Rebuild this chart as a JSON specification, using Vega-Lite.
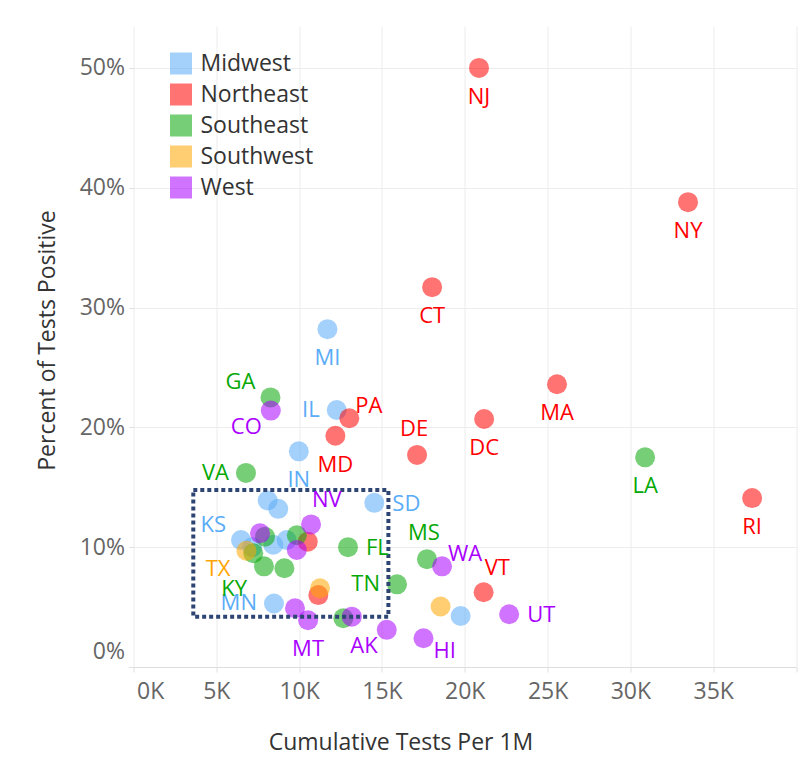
{
  "$schema": "https://vega.github.io/schema/vega-lite/v6.json",
  "width": 662.5,
  "height": 641,
  "autosize": {"type": "none"},
  "padding": {"left": 133.5, "top": 26, "right": 12, "bottom": 111},
  "background": "white",
  "config": {
    "font": "Open Sans",
    "view": {"stroke": null},
    "axis": {
      "labelFont": "Open Sans", "labelFontSize": 23, "labelColor": "#666666",
      "titleFont": "Open Sans", "titleFontSize": 23, "titleColor": "#333333", "titleFontWeight": "normal",
      "gridColor": "#ececec", "gridWidth": 1,
      "tickColor": "#e0e0e0", "tickSize": 5, "domainColor": "#dddddd"
    },
    "legend": {"labelFont": "Open Sans", "labelFontSize": 23, "labelColor": "#333333"}
  },
  "datasets": {
    "states": [
      {"s": "MI", "r": "Midwest", "x": 11710, "y": 0.282, "p": "b"},
      {"s": "IL", "r": "Midwest", "x": 12270, "y": 0.2145, "p": "l"},
      {"s": "IN", "r": "Midwest", "x": 9980, "y": 0.180, "p": "b"},
      {"s": "SD", "r": "Midwest", "x": 14540, "y": 0.137, "p": "r"},
      {"s": "KS", "r": "Midwest", "x": 6490, "y": 0.106, "p": "al"},
      {"s": "MN", "r": "Midwest", "x": 8480, "y": 0.053, "p": "l"},
      {"s": "OH", "r": "Midwest", "x": 8100, "y": 0.139, "p": "n"},
      {"s": "WI", "r": "Midwest", "x": 8740, "y": 0.132, "p": "n"},
      {"s": "ND", "r": "Midwest", "x": 19750, "y": 0.0426, "p": "n"},
      {"s": "IA", "r": "Midwest", "x": 7160, "y": 0.100, "p": "n"},
      {"s": "MO", "r": "Midwest", "x": 8440, "y": 0.102, "p": "n"},
      {"s": "NE", "r": "Midwest", "x": 9250, "y": 0.106, "p": "n"},
      {"s": "NJ", "r": "Northeast", "x": 20860, "y": 0.500, "p": "b"},
      {"s": "NY", "r": "Northeast", "x": 33480, "y": 0.388, "p": "b"},
      {"s": "CT", "r": "Northeast", "x": 18030, "y": 0.317, "p": "b"},
      {"s": "MA", "r": "Northeast", "x": 25570, "y": 0.236, "p": "b"},
      {"s": "PA", "r": "Northeast", "x": 13030, "y": 0.2076, "p": "ar"},
      {"s": "DC", "r": "Northeast", "x": 21170, "y": 0.207, "p": "b"},
      {"s": "MD", "r": "Northeast", "x": 12190, "y": 0.193, "p": "b"},
      {"s": "DE", "r": "Northeast", "x": 17120, "y": 0.177, "p": "a"},
      {"s": "RI", "r": "Northeast", "x": 37350, "y": 0.141, "p": "b"},
      {"s": "VT", "r": "Northeast", "x": 21140, "y": 0.0624, "p": "ahr"},
      {"s": "NH", "r": "Northeast", "x": 10520, "y": 0.1046, "p": "n"},
      {"s": "ME", "r": "Northeast", "x": 11160, "y": 0.060, "p": "n"},
      {"s": "GA", "r": "Southeast", "x": 8270, "y": 0.225, "p": "al"},
      {"s": "VA", "r": "Southeast", "x": 6790, "y": 0.162, "p": "l"},
      {"s": "LA", "r": "Southeast", "x": 30890, "y": 0.175, "p": "b"},
      {"s": "FL", "r": "Southeast", "x": 12950, "y": 0.100, "p": "r"},
      {"s": "MS", "r": "Southeast", "x": 17720, "y": 0.090, "p": "a"},
      {"s": "TN", "r": "Southeast", "x": 15910, "y": 0.069, "p": "l"},
      {"s": "KY", "r": "Southeast", "x": 7880, "y": 0.084, "p": "bl3"},
      {"s": "AL", "r": "Southeast", "x": 7940, "y": 0.1088, "p": "n"},
      {"s": "AR", "r": "Southeast", "x": 7230, "y": 0.0949, "p": "n"},
      {"s": "NC", "r": "Southeast", "x": 9110, "y": 0.0824, "p": "n"},
      {"s": "SC", "r": "Southeast", "x": 9860, "y": 0.110, "p": "n"},
      {"s": "WV", "r": "Southeast", "x": 12670, "y": 0.0407, "p": "n"},
      {"s": "TX", "r": "Southwest", "x": 6820, "y": 0.097, "p": "bl2"},
      {"s": "AZ", "r": "Southwest", "x": 18540, "y": 0.0505, "p": "n"},
      {"s": "NM", "r": "Southwest", "x": 11260, "y": 0.0657, "p": "n"},
      {"s": "CO", "r": "West", "x": 8290, "y": 0.214, "p": "bl"},
      {"s": "NV", "r": "West", "x": 10720, "y": 0.119, "p": "ahr"},
      {"s": "WA", "r": "West", "x": 18630, "y": 0.084, "p": "ar"},
      {"s": "UT", "r": "West", "x": 22680, "y": 0.044, "p": "r"},
      {"s": "HI", "r": "West", "x": 17510, "y": 0.024, "p": "br"},
      {"s": "AK", "r": "West", "x": 15290, "y": 0.031, "p": "bl"},
      {"s": "MT", "r": "West", "x": 10540, "y": 0.039, "p": "b"},
      {"s": "OR", "r": "West", "x": 7640, "y": 0.1116, "p": "n"},
      {"s": "CA", "r": "West", "x": 9860, "y": 0.0977, "p": "n"},
      {"s": "ID", "r": "West", "x": 9750, "y": 0.049, "p": "n"},
      {"s": "WY", "r": "West", "x": 13180, "y": 0.042, "p": "n"}
    ],
    "box": [{"x1": 3610, "x2": 15390, "y1": 0.042, "y2": 0.1477}]
  },
  "data": {"name": "states"},
  "encoding": {
    "x": {"field": "x", "type": "quantitative", "title": "Cumulative Tests Per 1M",
      "scale": {"domain": [0, 40000], "nice": false, "zero": false},
      "axis": {"values": [0, 5000, 10000, 15000, 20000, 25000, 30000, 35000, 40000],
        "labelExpr": "datum.value >= 40000 ? '' : (datum.value / 1000) + 'K'",
        "labelFlush": true, "labelFlushOffset": -3, "labelPadding": 8, "titlePadding": 28,
        "titleX": 267, "titleAlign": "center", "grid": true}},
    "y": {"field": "y", "type": "quantitative", "title": "Percent of Tests Positive",
      "scale": {"domain": [0, 0.535], "nice": false, "zero": false},
      "axis": {"values": [0, 0.1, 0.2, 0.3, 0.4, 0.5], "format": ".0%", "domain": false,
        "labelFlush": true, "labelFlushOffset": -4, "labelPadding": 4, "titlePadding": 20,
        "titleY": 314, "grid": true}},
    "color": {"field": "r", "type": "nominal",
      "scale": {"domain": ["Midwest", "Northeast", "Southeast", "Southwest", "West"],
        "range": ["#5aacf8", "#ff0000", "#05a805", "#ffa500", "#aa00ff"]},
      "legend": null}
  },
  "layer": [
    {
      "mark": {"type": "circle", "size": 400, "opacity": 0.55},
      "encoding": {
        "color": {"field": "r", "type": "nominal",
          "legend": {"title": null, "orient": "none", "legendX": 36, "legendY": 26, "padding": 0,
            "symbolType": "square", "symbolSize": 484, "symbolOpacity": 0.55, "symbolStrokeWidth": 0,
            "labelOffset": 8, "rowPadding": 7}}
      }
    },
    {
      "data": {"name": "box"},
      "mark": {"type": "rect", "filled": false, "stroke": "#2e4574", "strokeWidth": 4, "strokeDash": [4, 3]},
      "encoding": {
        "x": {"field": "x1", "type": "quantitative"},
        "x2": {"field": "x2"},
        "y": {"field": "y1", "type": "quantitative"},
        "y2": {"field": "y2"},
        "color": {"value": null}
      }
    },
    {"transform": [{"filter": "datum.p == 'b'"}], "mark": {"type": "text", "fontSize": 22, "align": "center", "baseline": "middle", "dx": 0, "dy": 29}, "encoding": {"text": {"field": "s"}}},
    {"transform": [{"filter": "datum.p == 'a'"}], "mark": {"type": "text", "fontSize": 22, "align": "center", "baseline": "middle", "dx": -3, "dy": -26}, "encoding": {"text": {"field": "s"}}},
    {"transform": [{"filter": "datum.p == 'l'"}], "mark": {"type": "text", "fontSize": 22, "align": "right", "baseline": "middle", "dx": -17, "dy": 0}, "encoding": {"text": {"field": "s"}}},
    {"transform": [{"filter": "datum.p == 'r'"}], "mark": {"type": "text", "fontSize": 22, "align": "left", "baseline": "middle", "dx": 18, "dy": 1}, "encoding": {"text": {"field": "s"}}},
    {"transform": [{"filter": "datum.p == 'al'"}], "mark": {"type": "text", "fontSize": 22, "align": "right", "baseline": "middle", "dx": -15, "dy": -15}, "encoding": {"text": {"field": "s"}}},
    {"transform": [{"filter": "datum.p == 'ar'"}], "mark": {"type": "text", "fontSize": 22, "align": "left", "baseline": "middle", "dx": 6, "dy": -12}, "encoding": {"text": {"field": "s"}}},
    {"transform": [{"filter": "datum.p == 'ahr'"}], "mark": {"type": "text", "fontSize": 22, "align": "left", "baseline": "middle", "dx": 1, "dy": -24}, "encoding": {"text": {"field": "s"}}},
    {"transform": [{"filter": "datum.p == 'bl'"}], "mark": {"type": "text", "fontSize": 22, "align": "right", "baseline": "middle", "dx": -9, "dy": 16}, "encoding": {"text": {"field": "s"}}},
    {"transform": [{"filter": "datum.p == 'bl2'"}], "mark": {"type": "text", "fontSize": 22, "align": "right", "baseline": "middle", "dx": -16, "dy": 18}, "encoding": {"text": {"field": "s"}}},
    {"transform": [{"filter": "datum.p == 'bl3'"}], "mark": {"type": "text", "fontSize": 22, "align": "right", "baseline": "middle", "dx": -17, "dy": 23}, "encoding": {"text": {"field": "s"}}},
    {"transform": [{"filter": "datum.p == 'br'"}], "mark": {"type": "text", "fontSize": 22, "align": "left", "baseline": "middle", "dx": 10, "dy": 13}, "encoding": {"text": {"field": "s"}}}
  ]
}
